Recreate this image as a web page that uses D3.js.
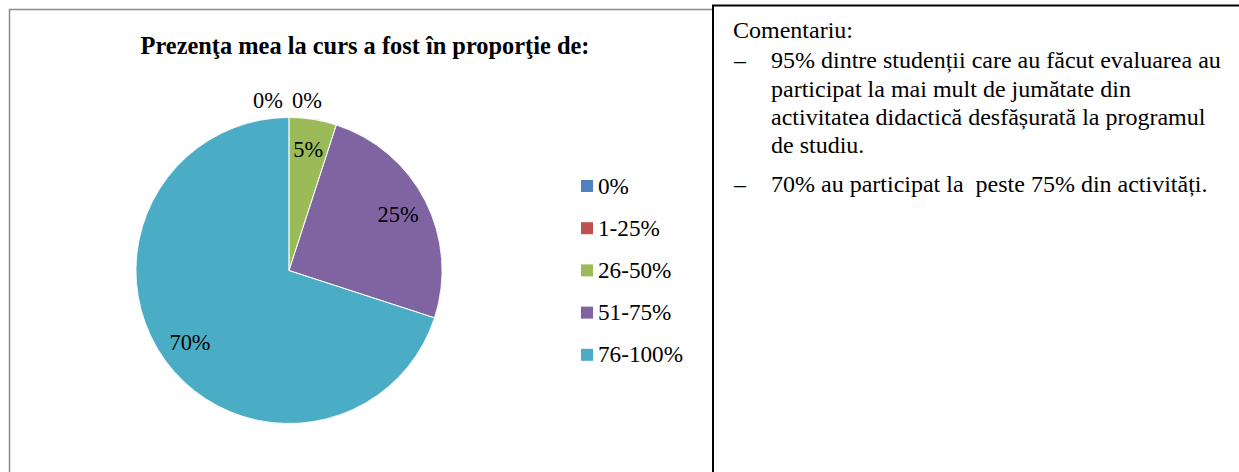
<!DOCTYPE html>
<html>
<head>
<meta charset="utf-8">
<script src="https://cdn.jsdelivr.net/npm/d3@7"></script>
<style>
  body { margin: 0; background: #fff; }
</style>
</head>
<body>
<script>
'use strict';

// chart data
const categories = ["0%", "1-25%", "26-50%", "51-75%", "76-100%"];
const values = [0, 0, 5, 25, 70];
const colors = ["#4F81BD", "#C0504D", "#9BBB59", "#8064A2", "#4BACC6"];
const title = "Prezenţa mea la curs a fost în proporţie de:";

// comment text beside the chart
const commentHead = "Comentariu:";
const commentLines = [
  { bullet: true, text: "95% dintre studenții care au făcut evaluarea au" },
  { bullet: false, text: "participat la mai mult de jumătate din" },
  { bullet: false, text: "activitatea didactică desfășurată la programul" },
  { bullet: false, text: "de studiu." },
  { bullet: true, text: "70% au participat la  peste 75% din activități." }
];

const W = 1239, H = 472;
const FONT = "Liberation Serif";

const svg = d3.select("body").append("svg")
  .attr("width", W)
  .attr("height", H);

// chart frame (grey)
svg.append("rect")
  .attr("x", 9.5).attr("y", 9.5)
  .attr("width", 720).attr("height", 500)
  .attr("fill", "#fff")
  .attr("stroke", "#8c8c8c")
  .attr("stroke-width", 1.5);

// title
svg.append("text")
  .attr("x", 365)
  .attr("y", 54)
  .attr("text-anchor", "middle")
  .style("font-family", FONT)
  .style("font-size", "24.4px")
  .style("font-weight", "bold")
  .text(title);

// pie
const cx = 289, cy = 270.5, radius = 153;

const pie = d3.pie().sort(null).value(d => d)(values);
const arc = d3.arc().innerRadius(0).outerRadius(radius);
const labelArc = d3.arc().innerRadius(radius * 0.8).outerRadius(radius * 0.8);

const g = svg.append("g").attr("transform", `translate(${cx},${cy})`);

g.selectAll("path.slice")
  .data(pie)
  .enter()
  .append("path")
  .attr("class", "slice")
  .attr("d", arc)
  .attr("fill", (d, i) => colors[i]);

// thin white separators, like the original
g.selectAll("path.sep")
  .data(pie.filter(d => d.value > 0))
  .enter()
  .append("path")
  .attr("class", "sep")
  .attr("d", arc)
  .attr("fill", "none")
  .attr("stroke", "#fff")
  .attr("stroke-width", 0.8);

// data labels; zero slices sit above the pie, pushed apart
let zeroCount = 0;
g.selectAll("text.lbl")
  .data(pie)
  .enter()
  .append("text")
  .attr("class", "lbl")
  .attr("text-anchor", "middle")
  .style("font-family", FONT)
  .style("font-size", "22.4px")
  .attr("transform", d => {
    if (d.value === 0) {
      const a = d.startAngle;
      const r = radius + 17;
      const shift = zeroCount++ === 0 ? -21 : 18;
      return `translate(${Math.sin(a) * r + shift},${-Math.cos(a) * r})`;
    }
    const c = labelArc.centroid(d);
    return `translate(${c[0]},${c[1]})`;
  })
  .attr("dy", "0.33em")
  .text(d => d.value + "%");

// legend
const legend = svg.append("g").attr("transform", "translate(581,186)");
const row = legend.selectAll("g")
  .data(categories)
  .enter()
  .append("g")
  .attr("transform", (d, i) => `translate(0,${i * 42.2})`);

row.append("rect")
  .attr("x", 0).attr("y", -6)
  .attr("width", 12).attr("height", 12)
  .attr("fill", (d, i) => colors[i]);

row.append("text")
  .attr("x", 17)
  .attr("y", 0)
  .attr("dy", "0.33em")
  .style("font-family", FONT)
  .style("font-size", "23.2px")
  .text(d => d);

// comment box (black)
svg.append("rect")
  .attr("x", 713).attr("y", 5.5)
  .attr("width", 600).attr("height", 500)
  .attr("fill", "#fff")
  .attr("stroke", "#000")
  .attr("stroke-width", 2);

const comment = svg.append("g")
  .style("font-family", FONT)
  .style("font-size", "24px");

comment.append("text")
  .attr("x", 733)
  .attr("y", 38)
  .text(commentHead);

const lineY = [68, 97, 125, 153, 192];
commentLines.forEach((l, i) => {
  if (l.bullet) {
    comment.append("text")
      .attr("x", 734)
      .attr("y", lineY[i])
      .text("–");
  }
  comment.append("text")
    .attr("x", 771)
    .attr("y", lineY[i])
    .style("white-space", "pre")
    .text(l.text);
});
</script>
</body>
</html>
